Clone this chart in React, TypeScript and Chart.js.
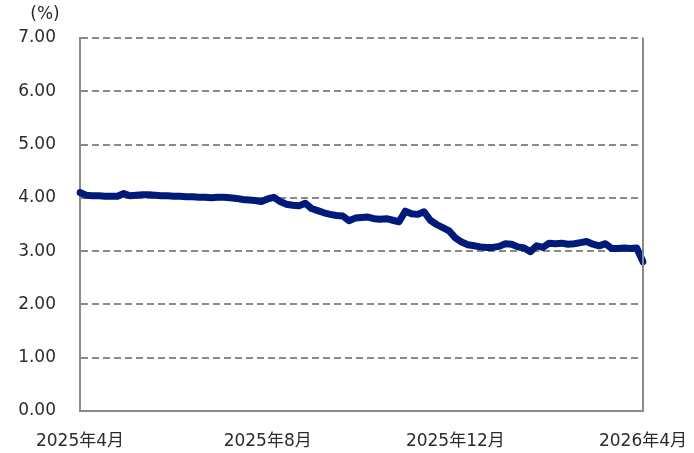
import React, { useEffect, useRef } from "react";
import { Chart, registerables } from "chart.js";

Chart.register(...registerables);

// Period: 2025年4月 .. 2026年4月, one sample about every 4 days (91 samples)
const monthLabels: string[] = ["2025年4月", "2025年8月", "2025年12月", "2026年4月"];
const monthLabelIndex: number[] = [0, 30, 60, 90];

const rateValues: number[] = [
  4.10, 4.05, 4.04, 4.04, 4.03, 4.03, 4.03, 4.08, 4.04, 4.05,
  4.06, 4.06, 4.05, 4.04, 4.04, 4.03, 4.03, 4.02, 4.02, 4.01,
  4.01, 4.00, 4.01, 4.01, 4.00, 3.99, 3.97, 3.96, 3.95, 3.93,
  3.98, 4.01, 3.93, 3.88, 3.86, 3.85, 3.90, 3.80, 3.76, 3.72,
  3.69, 3.67, 3.66, 3.57, 3.62, 3.63, 3.64, 3.61, 3.60, 3.61,
  3.58, 3.55, 3.75, 3.70, 3.69, 3.74, 3.58, 3.50, 3.44, 3.38,
  3.25, 3.17, 3.12, 3.10, 3.08, 3.07, 3.07, 3.09, 3.14, 3.13,
  3.08, 3.06, 2.99, 3.10, 3.07, 3.15, 3.14, 3.15, 3.13, 3.14,
  3.16, 3.18, 3.13, 3.10, 3.14, 3.05, 3.05, 3.06, 3.05, 3.06,
  2.80,
];

const yTickMin = 0;
const yTickMax = 7;
const yTickStep = 1;
const unitLabel = "(%)";

const GRID = "#8a8a8a";
const LINE = "#001a7a";
const TEXT = "#2b2b2b";
const FONT = "'DejaVu Sans', 'Noto Sans CJK JP', sans-serif";

export default function App() {
  const ref = useRef<HTMLCanvasElement | null>(null);

  useEffect(() => {
    if (!ref.current) return;
    const labels = rateValues.map((_, i) => {
      const k = monthLabelIndex.indexOf(i);
      return k >= 0 ? monthLabels[k] : "";
    });

    const frame = {
      id: "frame",
      afterDraw(chart: any) {
        const { ctx, chartArea } = chart;
        ctx.save();
        ctx.strokeStyle = GRID;
        ctx.lineWidth = 2;
        ctx.beginPath();
        ctx.moveTo(chartArea.right, chartArea.top);
        ctx.lineTo(chartArea.right, chartArea.bottom + 1);
        ctx.stroke();
        ctx.fillStyle = TEXT;
        ctx.font = `17px ${FONT}`;
        ctx.textAlign = "center";
        ctx.textBaseline = "middle";
        ctx.fillText(unitLabel, 45, 15);
        ctx.restore();
      },
    };

    const chart = new Chart(ref.current, {
      type: "line",
      data: {
        labels,
        datasets: [
          {
            data: rateValues,
            borderColor: LINE,
            backgroundColor: LINE,
            borderWidth: 7,
            pointRadius: 0,
            tension: 0,
            borderCapStyle: "round",
            borderJoinStyle: "round",
          },
        ],
      },
      options: {
        animation: false,
        responsive: false,
        layout: { padding: { top: 38, right: 51, left: 0, bottom: 0 } },
        plugins: { legend: { display: false }, tooltip: { enabled: false } },
        scales: {
          x: {
            type: "category",
            offset: false,
            grid: { display: false, drawTicks: false },
            border: { display: true, color: GRID, width: 2 },
            ticks: {
              autoSkip: false,
              maxRotation: 0,
              minRotation: 0,
              padding: 20,
              color: TEXT,
              font: { family: FONT, size: 17 },
            },
            afterFit(scale: any) {
              scale.height = 42;
              scale.paddingLeft = 0;
              scale.paddingRight = 0;
            },
          },
          y: {
            min: yTickMin,
            max: yTickMax,
            grid: { color: GRID, lineWidth: 2, drawTicks: false },
            border: { display: true, color: GRID, width: 2, dash: [7, 4] },
            ticks: {
              stepSize: yTickStep,
              padding: 24,
              color: TEXT,
              font: { family: FONT, size: 17 },
              callback: (v: any) => Number(v).toFixed(2),
            },
            afterFit(scale: any) {
              scale.width = 80;
            },
          },
        },
      },
      plugins: [frame],
    } as any);

    return () => chart.destroy();
  }, []);

  return (
    <div style={{ position: "absolute", left: 0, top: 0, width: 694, height: 453, background: "#fff" }}>
      <canvas ref={ref} width={694} height={453} />
    </div>
  );
}
